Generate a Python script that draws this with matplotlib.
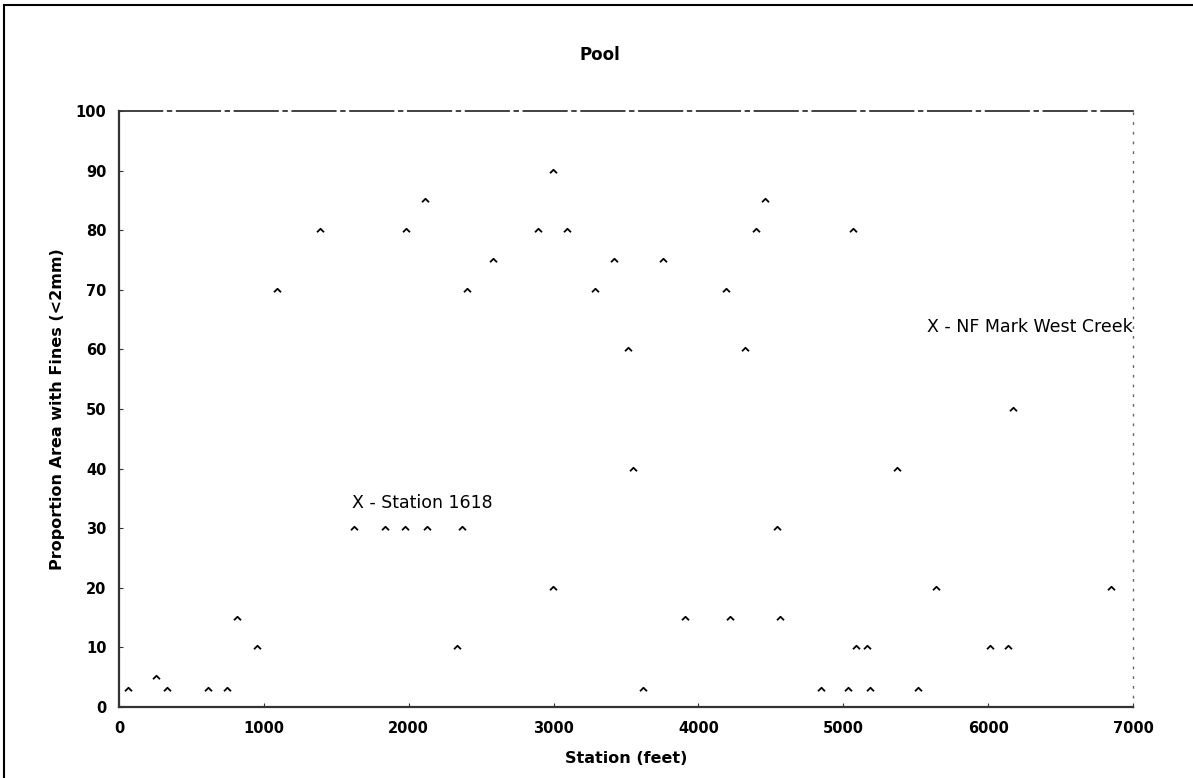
import matplotlib
matplotlib.use("Agg")
import matplotlib.pyplot as plt
from matplotlib.path import Path
from matplotlib.lines import Line2D

# Data
station = [65, 255, 330, 615, 745, 815, 950, 1090, 1390, 1620, 1835, 1975, 2125,
           1980, 2110, 2335, 2365, 2400, 2585, 2890, 2995, 2995, 3090, 3285, 3420,
           3515, 3550, 3620, 3755, 3910, 4190, 4220, 4320, 4400, 4460, 4540, 4560,
           4845, 5030, 5065, 5090, 5165, 5185, 5370, 5515, 5640, 6015, 6135, 6175,
           6845]
fines = [3, 5, 3, 3, 3, 15, 10, 70, 80, 30, 30, 30, 30,
         80, 85, 10, 30, 70, 75, 80, 90, 20, 80, 70, 75,
         60, 40, 3, 75, 15, 70, 15, 60, 80, 85, 30, 15,
         3, 3, 80, 10, 10, 3, 40, 3, 20, 10, 10, 50,
         20]

xticks = [0, 1000, 2000, 3000, 4000, 5000, 6000, 7000]
yticks = [0, 10, 20, 30, 40, 50, 60, 70, 80, 90, 100]

title = "Pool"
xlabel = "Station (feet)"
ylabel = "Proportion Area with Fines (<2mm)"
annot1 = ("X - Station 1618", 1608, 34.2)
annot2 = ("X - NF Mark West Creek", 7000, 63.8)

plt.rcParams['font.family'] = ['DejaVu Sans']

fig = plt.figure(figsize=(11.93, 7.78), dpi=100)
fig.patch.set_facecolor("white")
ax = fig.add_axes([119/1193, 1 - 707/778, (1133 - 119)/1193, (707 - 111)/778])

caret = Path([(-1.0, -0.5), (0.0, 0.5), (1.0, -0.5)],
             [Path.MOVETO, Path.LINETO, Path.LINETO])
ax.plot(station, fines, linestyle="none", marker=caret, markersize=5,
        markerfacecolor="none", markeredgecolor="black", markeredgewidth=1.3,
        clip_on=False)

ax.set_xlim(0, 7000)
ax.set_ylim(0, 100)
ax.set_xticks(xticks)
ax.set_yticks(yticks)
ax.tick_params(axis="both", labelsize=10.5, direction="in", length=3,
               color="#333333")
ax.tick_params(axis="x", pad=10)
ax.tick_params(axis="y", pad=9)
for lab in ax.get_xticklabels() + ax.get_yticklabels():
    lab.set_fontweight("bold")

for side in ("left", "bottom"):
    ax.spines[side].set_color("#333333")
    ax.spines[side].set_linewidth(1.6)
ax.spines["top"].set_color("#333333")
ax.spines["top"].set_linewidth(1.3)
ax.spines["top"].set_linestyle((0, (24, 3, 2, 3)))
ax.spines["right"].set_color("#666666")
ax.spines["right"].set_linewidth(1.0)
ax.spines["right"].set_linestyle((0, (1, 6)))

ax.set_xlabel(xlabel, fontsize=11.5, fontweight="bold", labelpad=11)
ax.set_ylabel(ylabel, fontsize=11.5, fontweight="bold", labelpad=8)

ax.text(annot1[1], annot1[2], annot1[0], fontsize=12.5, ha="left", va="center")
ax.text(annot2[1], annot2[2], annot2[0], fontsize=12.5, ha="right", va="center")

fig.text(600/1193, 1 - 55/778, title, fontsize=12, fontweight="bold",
         ha="center", va="center")

# outer frame of the scanned chart (left and top edges)
fig.add_artist(Line2D([4/1193, 4/1193], [0, 1 - 6/778], transform=fig.transFigure,
                      color="black", linewidth=1.5))
fig.add_artist(Line2D([4/1193, 1], [1 - 5/778, 1 - 5/778], transform=fig.transFigure,
                      color="black", linewidth=1.5))

fig.savefig("out.png", dpi=100, facecolor="white")
